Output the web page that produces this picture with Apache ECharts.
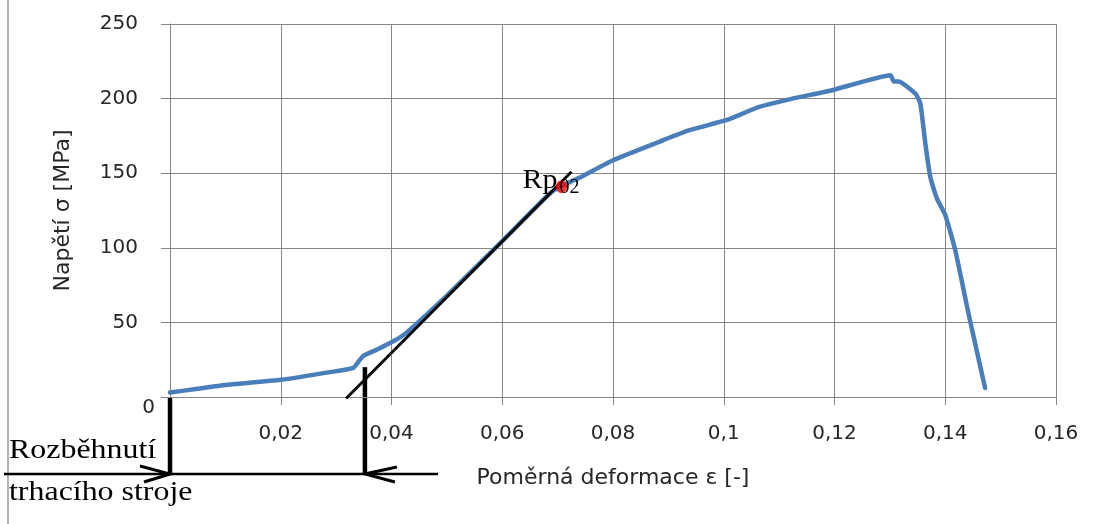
<!DOCTYPE html>
<html>
<head>
<meta charset="utf-8">
<script src="https://cdn.jsdelivr.net/npm/echarts@6/dist/echarts.min.js"></script>
<style>html,body{margin:0;padding:0;background:#fff;}#c{width:1096px;height:524px;}</style>
</head>
<body>
<div id="c"></div>
<script>
// ---- data (strain [-], stress [MPa]) ----
const strain = [0, 0.005, 0.01, 0.02, 0.0295, 0.0331, 0.034, 0.0349, 0.0375, 0.0404, 0.0425, 0.05, 0.06, 0.0686, 0.071, 0.0745, 0.08, 0.089, 0.0938, 0.1004, 0.1064, 0.1124, 0.1196, 0.1301, 0.1307, 0.1316, 0.1346, 0.1355, 0.1364, 0.1373, 0.1385, 0.14, 0.1418, 0.1442, 0.1472];
const stress = [3, 5.5, 8, 11.5, 17, 19.5, 23.5, 27.5, 32, 37.5, 42.5, 68, 104.5, 136.4, 142, 148, 158.7, 172, 178.8, 185.5, 194.4, 200, 205.6, 215.7, 211.5, 211.5, 203.4, 196.7, 170, 147.5, 133, 122, 98.5, 56, 6];
const tangentStrain = [0.0318, 0.0725];
const tangentStress = [-1, 151];
const rpStrain = [0.0707];
const rpStress = [141];
const markerStrain = [0, 0.0352];     // "Rozběhnutí trhacího stroje" markers
const markerStress = [0, 20];
const xMin = 0, xMax = 0.16, xStep = 0.02;
const yMin = 0, yMax = 250, yStep = 50;

const curve = strain.map((s, i) => [s, stress[i]]);
const tangent = tangentStrain.map((s, i) => [s, tangentStress[i]]);
const rp = rpStrain.map((s, i) => [s, rpStress[i]]);

const axisFont = 'DejaVu Sans';
const textColor = '#262626';
const gridColor = '#868686';
const chart = echarts.init(document.getElementById('c'));
chart.setOption({
  animation: false,
  backgroundColor: '#fff',
  grid: { left: 170, right: 40, top: 24, bottom: 127 },
  xAxis: {
    type: 'value', min: xMin, max: xMax, interval: xStep,
    name: 'Poměrná deformace ε [-]', nameLocation: 'middle', nameGap: 70,
    nameTextStyle: { fontFamily: axisFont, fontSize: 22, color: textColor },
    axisLine: { show: true, onZero: false, lineStyle: { color: gridColor, width: 1 } },
    axisTick: { show: true, length: 8, lineStyle: { color: gridColor } },
    splitLine: { show: true, lineStyle: { color: gridColor, width: 1 } },
    axisLabel: {
      showMinLabel: false, margin: 27, fontFamily: axisFont, fontSize: 20, color: textColor,
      formatter: v => String(+v.toFixed(4)).replace('.', ',')
    }
  },
  yAxis: {
    type: 'value', min: yMin, max: yMax, interval: yStep,
    name: 'Napětí σ [MPa]', nameLocation: 'middle', nameGap: 96,
    nameTextStyle: { fontFamily: axisFont, fontSize: 22, color: textColor },
    axisLine: { show: true, lineStyle: { color: gridColor, width: 1 } },
    axisTick: { show: true, length: 9, lineStyle: { color: gridColor } },
    splitLine: { show: true, lineStyle: { color: gridColor, width: 1 } },
    axisLabel: {
      margin: 15, color: textColor,
      formatter: v => v === 0 ? '{z|0}' : '{n|' + v + '}',
      rich: {
        n: { fontFamily: axisFont, fontSize: 20, color: textColor, padding: [0, 17, 0, 0] },
        z: { fontFamily: axisFont, fontSize: 20, color: textColor, padding: [22, 0, 0, 0] }
      }
    }
  },
  series: [
    { type: 'line', data: curve, showSymbol: false, symbol: 'none', smooth: 0.15,
      lineStyle: { color: '#4a7ebb', width: 4.5, cap: 'round', join: 'round' }, z: 2 },
    { type: 'line', data: tangent, showSymbol: false, symbol: 'none', clip: false,
      lineStyle: { color: '#0a0a0a', width: 3 }, z: 3 },
    { type: 'scatter', data: rp, symbolSize: [11, 13], itemStyle: { color: '#ff0000' }, z: 4 }
  ]
});

function drawAnnotations() {
  const p0 = chart.convertToPixel({ gridIndex: 0 }, [markerStrain[0], markerStress[0]]);
  const p1 = chart.convertToPixel({ gridIndex: 0 }, [markerStrain[1], markerStress[1]]);
  const rpPx = chart.convertToPixel({ gridIndex: 0 }, rp[0]);
  const baseY = 474;
  const black = '#000';
  const serif = 'Liberation Serif';
  chart.setOption({
    graphic: [
      { type: 'line', shape: { x1: 8, y1: 0, x2: 8, y2: 524 }, style: { stroke: '#9a9a9a', lineWidth: 1.5 } },
      { type: 'line', shape: { x1: 4, y1: baseY, x2: 438, y2: baseY }, style: { stroke: black, lineWidth: 2.5 } },
      { type: 'line', shape: { x1: p0[0], y1: p0[1], x2: p0[0], y2: baseY }, style: { stroke: black, lineWidth: 4.5 } },
      { type: 'line', shape: { x1: p1[0], y1: p1[1], x2: p1[0], y2: baseY }, style: { stroke: black, lineWidth: 4.5 } },
      { type: 'polyline', shape: { points: [[p0[0] - 30, baseY - 8], [p0[0], baseY], [p0[0] - 26, baseY + 8]] }, style: { stroke: black, lineWidth: 3, fill: null } },
      { type: 'polyline', shape: { points: [[p1[0] + 32, baseY - 7], [p1[0], baseY], [p1[0] + 30, baseY + 8]] }, style: { stroke: black, lineWidth: 3, fill: null } },
      { type: 'text', x: 9, y: 451, scaleX: 1.14, style: { text: 'Rozběhnutí', font: '28px "' + serif + '"', fill: black, verticalAlign: 'middle', align: 'left' } },
      { type: 'text', x: 9, y: 493, scaleX: 1.14, style: { text: 'trhacího stroje', font: '28px "' + serif + '"', fill: black, verticalAlign: 'middle', align: 'left' } },
      { type: 'text', x: rpPx[0] - 39, y: rpPx[1] - 6, scaleX: 1.07, z: 10, style: { text: 'Rp', font: '28px "' + serif + '"', fill: black, verticalAlign: 'middle', align: 'left' } },
      { type: 'text', x: rpPx[0] - 2, y: rpPx[1] + 1, z: 10, style: { text: '02', font: '20px "' + serif + '"', fill: black, verticalAlign: 'middle', align: 'left' } }
    ]
  });
}
drawAnnotations();
</script>
</body>
</html>
